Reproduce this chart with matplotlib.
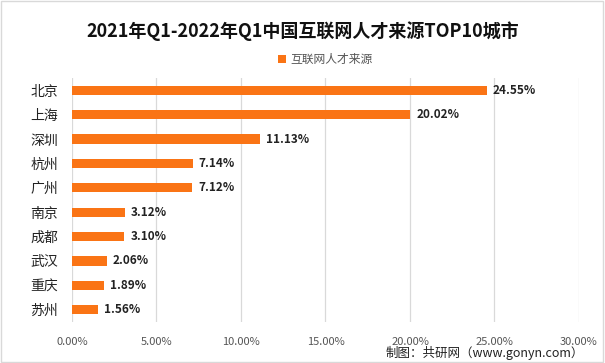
import matplotlib.pyplot as plt
from matplotlib.patches import Rectangle

plt.rcParams['font.family'] = ['Noto Sans CJK SC', 'DejaVu Sans']

cities = ['北京', '上海', '深圳', '杭州', '广州', '南京', '成都', '武汉', '重庆', '苏州']
values = [24.55, 20.02, 11.13, 7.14, 7.12, 3.12, 3.10, 2.06, 1.89, 1.56]
xticks = [0, 5, 10, 15, 20, 25, 30]

orange = '#FA7415'

fig = plt.figure(figsize=(6.05, 3.63), dpi=100)
ax = fig.add_axes([0.119, 0.113, 0.838, 0.672])

y = list(range(len(cities)))[::-1]
ax.barh(y, values, height=0.38, color=orange, label='互联网人才来源', zorder=3)
for yi, v in zip(y, values):
    ax.text(v + 0.35, yi, f'{v:.2f}%', va='center', ha='left', fontsize=8.5,
            fontweight='bold', color='#222222')

ax.set_xlim(0, 30)
ax.set_ylim(-0.5, len(cities) - 0.5)
ax.set_xticks(xticks)
ax.set_xticklabels([f'{t:.2f}%' for t in xticks], fontsize=8, color='#555555')
ax.set_yticks(y)
ax.set_yticklabels(cities, fontsize=10, color='#222222')
ax.xaxis.grid(True, color='#D9D9D9', linewidth=0.9, zorder=0)
ax.tick_params(axis='both', length=0)
ax.tick_params(axis='x', pad=11)
ax.tick_params(axis='y', pad=10)
for s in ax.spines.values():
    s.set_visible(False)

fig.text(0.5, 0.915, '2021年Q1-2022年Q1中国互联网人才来源TOP10城市', ha='center', va='center',
         fontsize=13, fontweight='bold', color='#111111')
ax.legend(loc='center', bbox_to_anchor=(0.5, 1.075), frameon=False, fontsize=8.5,
          handlelength=0.6, handleheight=0.6, labelcolor='#555555', handletextpad=0.4)
fig.text(0.965, 0.028, '制图：共研网（www.gonyn.com）', ha='right', va='center',
         fontsize=9, color='#222222')

fig.patches.append(Rectangle((0.002, 0.003), 0.995, 0.994, transform=fig.transFigure,
                             fill=False, edgecolor='#D9D9D9', linewidth=1))

fig.savefig('out.png', dpi=100)
